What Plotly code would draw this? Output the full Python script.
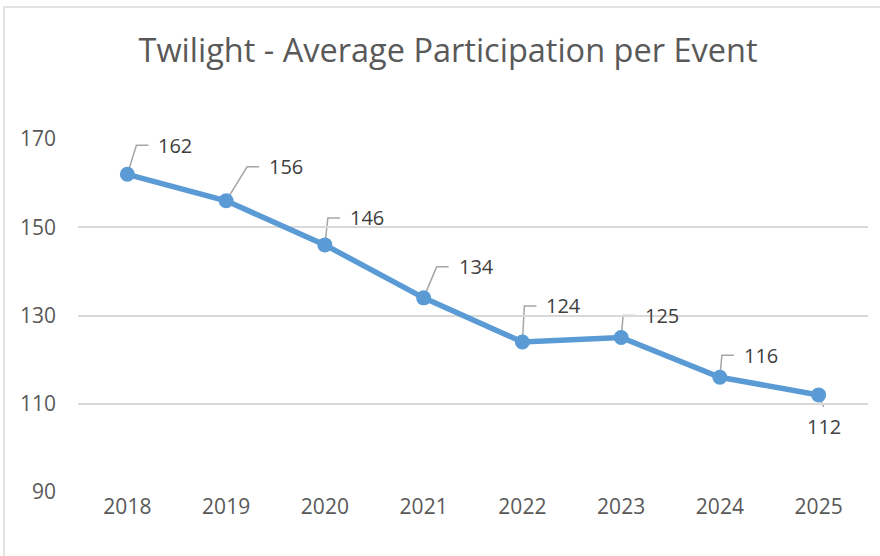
import plotly.graph_objects as go

years = ["2018", "2019", "2020", "2021", "2022", "2023", "2024", "2025"]
participation = [162, 156, 146, 134, 124, 125, 116, 112]
y_ticks = [90, 110, 130, 150, 170]

# leader-line elbow offsets in pixels (dx right, dy up) for each data label
leader_dx = [9, 21, 3, 13, 2, 2, 2, 5]
leader_dy = [29, 34, 27, 31, 36, 22, 22, -12]

W, H = 880, 556
M_L, M_R, M_T, M_B = 78, 12, 139, 64
LINE_BLUE = "#5B9BD5"
TEXT_GREY = "#595959"
LEADER_GREY = "#A6A6A6"
FONT = "Open Sans"

x_idx = list(range(len(years)))

fig = go.Figure()
fig.add_trace(go.Scatter(
    x=x_idx, y=participation,
    mode="lines+markers",
    line=dict(color=LINE_BLUE, width=5.5),
    marker=dict(color=LINE_BLUE, size=15),
    showlegend=False,
    hoverinfo="skip",
))

shapes = []
annotations = []
for i, v in enumerate(participation):
    dx, dy = leader_dx[i], leader_dy[i]
    if dy > 0:
        # elbow: diagonal up, then short horizontal to the label
        path = f"M0,0 L{dx},{dy} L{dx + 12},{dy}"
        annotations.append(dict(
            x=x_idx[i], y=v, xref="x", yref="y",
            text=str(v), showarrow=False,
            xanchor="left", yanchor="middle",
            xshift=dx + 20, yshift=dy,
            font=dict(family=FONT, size=20, color="#404040"),
        ))
    else:
        path = f"M0,0 L{dx},{dy}"
        annotations.append(dict(
            x=x_idx[i], y=v, xref="x", yref="y",
            text=str(v), showarrow=False,
            xanchor="center", yanchor="top",
            xshift=dx, yshift=dy - 4,
            font=dict(family=FONT, size=20, color="#404040"),
        ))
    shapes.append(dict(
        type="path", xref="x", yref="y",
        xsizemode="pixel", ysizemode="pixel",
        xanchor=x_idx[i], yanchor=v,
        path=path, line=dict(color=LEADER_GREY, width=1.5),
        layer="below",
    ))

# outer chart border (only top and left edges fall inside the window)
pw, ph = W - M_L - M_R, H - M_T - M_B
shapes.append(dict(
    type="rect", xref="paper", yref="paper",
    x0=(4 - M_L) / pw, x1=(W + 10 - M_L) / pw,
    y0=-(H + 10 - (H - M_B)) / ph, y1=((H - M_B) - 7) / ph,
    line=dict(color="#D9D9D9", width=1.5), fillcolor="rgba(0,0,0,0)",
    layer="below",
))

fig.update_layout(
    width=W, height=H,
    margin=dict(l=M_L, r=M_R, t=M_T, b=M_B),
    paper_bgcolor="white", plot_bgcolor="white",
    font=dict(family=FONT, color=TEXT_GREY),
    title=dict(
        text="Twilight - Average Participation per Event",
        x=448 / W, xref="container", xanchor="center",
        y=1 - 51 / H, yref="container", yanchor="middle",
        font=dict(family=FONT, size=32.5, color=TEXT_GREY),
    ),
    xaxis=dict(
        tickvals=x_idx, ticktext=years,
        range=[-0.5, len(years) - 0.5],
        showgrid=False, zeroline=False, showline=False,
        ticks="", tickfont=dict(size=21, color=TEXT_GREY),
    ),
    yaxis=dict(
        range=[90, 170], tickvals=y_ticks,
        showgrid=True, gridcolor="#D9D9D9", gridwidth=1.5,
        zeroline=False, showline=False, ticks="",
        ticklabelstandoff=21,
        tickfont=dict(size=21, color=TEXT_GREY),
    ),
    shapes=shapes,
    annotations=annotations,
)

fig.write_html("out.html", config={"displayModeBar": False},
               post_script="document.body.style.margin='0';")
